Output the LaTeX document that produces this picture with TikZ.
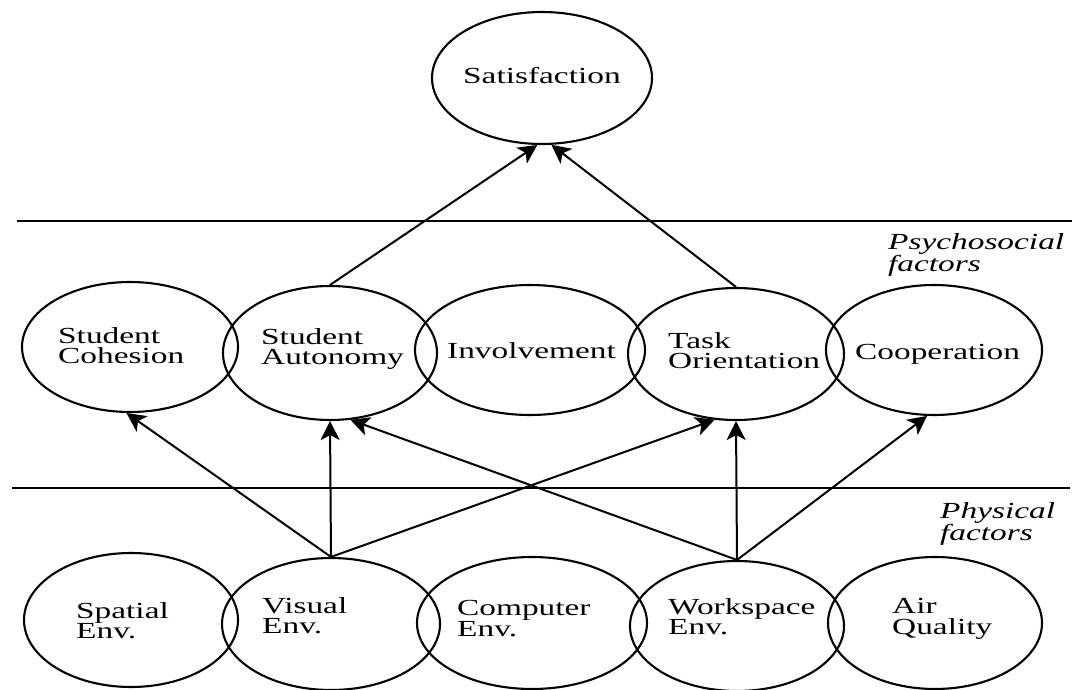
\documentclass[tikz,border=0pt]{standalone}
\usepackage{fontspec}
\setmainfont{Liberation Serif}[FakeStretch=1.45]
\usetikzlibrary{shapes.geometric,arrows.meta}
\tikzset{
  oval/.style={draw, ellipse, line width=2.1pt, inner sep=0pt},
  lab/.style={anchor=north west, inner sep=0pt, align=left,
    font=\fontsize{23}{20.8}\selectfont},
  side/.style={lab, font=\fontsize{23}{22}\selectfont\itshape},
  link/.style={line width=2pt, -{Stealth[length=19pt,width=19pt,inset=5pt]}},
  rule/.style={line width=2pt}
}
\begin{document}
\begin{tikzpicture}[x=1pt,y=-1pt]
  \fill[white] (0,0) rectangle (1074,690);
  \useasboundingbox (0,0) rectangle (1074,690);

  % layer separators
  \draw[rule] (17,221) -- (1072,221);
  \draw[rule] (12,488) -- (1070,488);

  % outcome
  \node[oval, minimum width=220pt, minimum height=132pt] (satis) at (542,78) {};

  % psychosocial factors
  \node[oval, minimum width=216pt, minimum height=130pt] (cohesion) at (130,347) {};
  \node[oval, minimum width=214pt, minimum height=134pt] (autonomy) at (330,353) {};
  \node[oval, minimum width=230pt, minimum height=130pt] (involvement) at (530,350) {};
  \node[oval, minimum width=216pt, minimum height=132pt] (task) at (736,354) {};
  \node[oval, minimum width=216pt, minimum height=130pt] (coop) at (934,350) {};

  % physical factors
  \node[oval, minimum width=214pt, minimum height=134pt] (spatial) at (131,620) {};
  \node[oval, minimum width=218pt, minimum height=132pt] (visual) at (331,624) {};
  \node[oval, minimum width=230pt, minimum height=132pt] (computer) at (532,623) {};
  \node[oval, minimum width=214pt, minimum height=130pt] (workspace) at (737,626) {};
  \node[oval, minimum width=214pt, minimum height=132pt] (air) at (935,623) {};

  % labels
  \node[lab] (satis-t) at (463,67) {Satisfaction};
  \node[lab] (cohesion-t) at (58,327) {Student\\Cohesion};
  \node[lab] (autonomy-t) at (261,328) {Student\\Autonomy};
  \node[lab] (involvement-t) at (447,342) {Involvement};
  \node[lab] (task-t) at (668,332) {Task\\Orientation};
  \node[lab] (coop-t) at (855,344) {Cooperation};
  \node[lab] (spatial-t) at (76,602) {Spatial\\Env.};
  \node[lab] (visual-t) at (262,597) {Visual\\Env.};
  \node[lab] (computer-t) at (457,600) {Computer\\Env.};
  \node[lab] (workspace-t) at (668,598) {Workspace\\Env.};
  \node[lab] (air-t) at (892,598) {Air\\Quality};
  \node[side] (psy-t) at (888,233) {Psychosocial\\factors};
  \node[side] (phy-t) at (940,502) {Physical\\factors};

  % paths of influence
  \draw[link] (autonomy.north) -- (satis.-94);
  \draw[link] (task.north) -- (satis.-82);
  \draw[link] (visual.north) -- (cohesion.-93);
  \draw[link] (visual.north) -- (autonomy.south);
  \draw[link] (visual.north) -- (task.-108);
  \draw[link] (workspace.north) -- (autonomy.-73);
  \draw[link] (workspace.north) -- (task.south);
  \draw[link] (workspace.north) -- (coop.-96);
\end{tikzpicture}
\end{document}
